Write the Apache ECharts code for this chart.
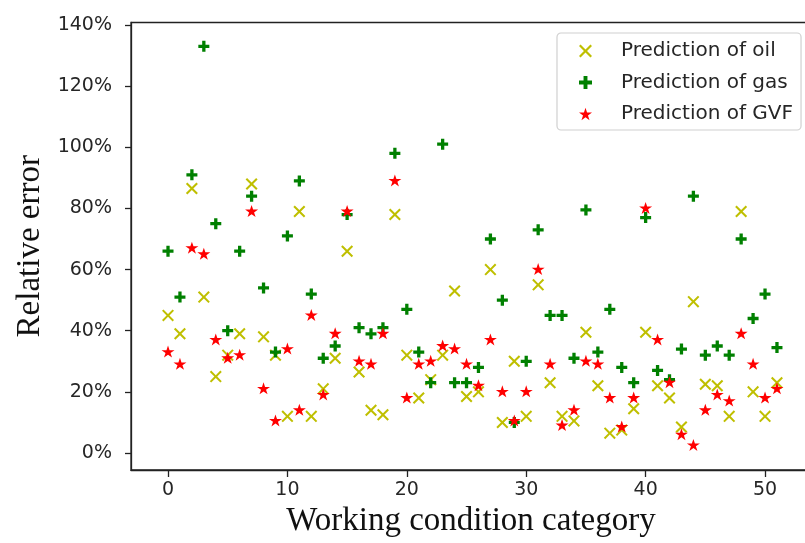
<!DOCTYPE html>
<html>
<head>
<meta charset="utf-8">
<script src="https://cdn.jsdelivr.net/npm/echarts@6/dist/echarts.min.js"></script>
<style>html,body{margin:0;padding:0;background:#fff}#c{width:805px;height:543px}</style>
</head>
<body>
<div id="c"></div>
<script>
// Working condition categories 0..51
var categories = [0,1,2,3,4,5,6,7,8,9,10,11,12,13,14,15,16,17,18,19,20,21,22,23,24,25,26,27,28,29,30,31,32,33,34,35,36,37,38,39,40,41,42,43,44,45,46,47,48,49,50,51];
// relative errors in %
var oilError = [45,39,86.5,51,25,32,39,88,38,32,12,79,12,21,31,66,26.5,14,12.5,78,32,18,24,32,53,18.5,20,60,10,30,12,55,23,12,10.5,39.5,22,6.5,7.5,14.5,39.5,22,18,8.5,49.5,22.5,22,12,79,20,12,23];
var gasError = [66,51,91,133,75,40,66,84,54,33,71,89,52,31,35,78,41,39,41,98,47,33,23,101,23,23,28,70,50,10,30,73,45,45,31,79.5,33,47,28,23,77,27,24,34,84,32,35,32,70,44,52,34.5];
var gvfError = [33,29,67,65,37,31,32,79,21,10.5,34,14,45,19,39,79,30,29,39,89,18,29,30,35,34,29,22,37,20,10.5,20,60,29,9,14,30,29,18,8.5,18,80,37,23,6,2.5,14,19,17,39,29,18,21];
var seriesNames = ['Prediction of oil','Prediction of gas','Prediction of GVF'];
var xTicks = [0,10,20,30,40,50];
var yTicks = [0,20,40,60,80,100,120,140];

var X_PATH = 'path://M0,12 L12,0 L50,38 L88,0 L100,12 L62,50 L100,88 L88,100 L50,62 L12,100 L0,88 L38,50 Z';
var PLUS_PATH = 'path://M35,0 L65,0 L65,35 L100,35 L100,65 L65,65 L65,100 L35,100 L35,65 L0,65 L0,35 L35,35 Z';
var STAR_PATH = 'path://M50,0 L61.23,34.55 L97.55,34.55 L68.16,55.9 L79.39,90.45 L50,69.1 L20.61,90.45 L31.84,55.9 L2.45,34.55 L38.77,34.55 Z';

function pairs(vals){ return categories.map(function(c,i){ return [c, vals[i]]; }); }

var chart = echarts.init(document.getElementById('c'), null, {renderer:'canvas'});
var tickFont = {fontFamily:'DejaVu Sans', fontSize:19, color:'#262626'};
chart.setOption({
  animation:false,
  backgroundColor:'#fff',
  grid:{left:131, right:-6, top:22.5, bottom:73, outerBoundsMode:'none', containLabel:false, show:true, borderColor:'#222', borderWidth:1.3, backgroundColor:'transparent'},
  legend:{
    orient:'vertical', left:557, top:33,
    padding:[8,8,6,22], itemGap:11.5, itemWidth:13, itemHeight:13,
    borderColor:'#d0d0d0', borderWidth:1.2, borderRadius:4, backgroundColor:'#fff',
    textStyle:{fontFamily:'DejaVu Sans', fontSize:20, color:'#262626', padding:[0,0,0,24]},
    data:[{name:seriesNames[0], icon:X_PATH},{name:seriesNames[1], icon:PLUS_PATH},{name:seriesNames[2], icon:STAR_PATH}]
  },
  xAxis:{
    type:'value', min:-3.1, max:53.85,
    name:'Working condition category', nameLocation:'middle', nameGap:34,
    nameTextStyle:{fontFamily:'Liberation Serif', fontSize:33, color:'#111'},
    splitLine:{show:false},
    axisLine:{show:true, onZero:false, lineStyle:{color:'#222', width:1.3}},
    axisTick:{show:true, length:7, customValues:xTicks, lineStyle:{color:'#222', width:1.3}},
    axisLabel:Object.assign({margin:11, customValues:xTicks, formatter:function(v){return String(v);}}, tickFont)
  },
  yAxis:{
    type:'value', min:-5.55, max:140.8,
    name:'Relative error', nameLocation:'middle', nameGap:72, nameRotate:90,
    nameTextStyle:{fontFamily:'Liberation Serif', fontSize:33, color:'#111'},
    splitLine:{show:false},
    axisLine:{show:true, onZero:false, lineStyle:{color:'#222', width:1.3}},
    axisTick:{show:true, length:6, customValues:yTicks, lineStyle:{color:'#222', width:1.3}},
    axisLabel:Object.assign({margin:19, customValues:yTicks, formatter:function(v){return v+'%';}}, tickFont)
  },
  series:[
    {name:seriesNames[0], type:'scatter', data:pairs(oilError), symbol:X_PATH, symbolSize:12, itemStyle:{color:'#bfbf00', opacity:1}, z:2},
    {name:seriesNames[1], type:'scatter', data:pairs(gasError), symbol:PLUS_PATH, symbolSize:11, itemStyle:{color:'#008000', opacity:1}, z:3},
    {name:seriesNames[2], type:'scatter', data:pairs(gvfError), symbol:STAR_PATH, symbolSize:[13,12], symbolOffset:[0,-0.5], itemStyle:{color:'#ff0000', opacity:1}, z:4}
  ]
});
</script>
</body>
</html>
